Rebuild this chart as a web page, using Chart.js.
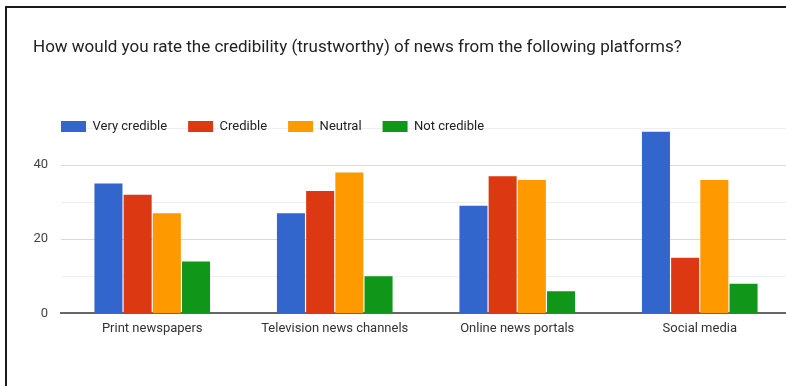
<!DOCTYPE html>
<html>
<head>
<meta charset="utf-8">
<script src="https://cdn.jsdelivr.net/npm/chart.js@4.4.1/dist/chart.umd.min.js"></script>
<style>
  html, body { margin: 0; padding: 0; background: #fff; overflow: hidden; }
  #wrap { position: relative; width: 786px; height: 386px; overflow: hidden; }
  #frame {
    position: absolute; left: 5px; top: 6px; width: 900px; height: 500px;
    border-left: 2px solid #1a1a1a; border-top: 2px solid #1a1a1a;
    pointer-events: none;
  }
  #title {
    position: absolute; left: 33px; top: 36px;
    font: 17px Roboto, sans-serif; line-height: 20px; color: #222;
    white-space: nowrap;
  }
  canvas { position: absolute; left: 0; top: 0; }
</style>
</head>
<body>
<div id="wrap">
  <canvas id="credChart" width="800" height="386"></canvas>
  <div id="title">How would you rate the credibility (trustworthy) of news from the following platforms?</div>
  <div id="frame"></div>
</div>
<script>
// values
const platforms = ['Print newspapers', 'Television news channels', 'Online news portals', 'Social media'];
const veryCredible = [35, 27, 29, 49];
const credible = [32, 33, 37, 15];
const neutral = [27, 38, 36, 36];
const notCredible = [14, 10, 6, 8];
const yTicks = [0, 20, 40];

Chart.defaults.font.family = 'Roboto';
Chart.defaults.font.size = 13;

// google-style legend sits on top of the chart area, so move it after layout
const legendShift = {
  id: 'legendShift',
  afterLayout(chart) {
    const lg = chart.legend;
    lg.top = 99;
    lg.bottom = 99 + lg.height;
    lg.left = 40;
  }
};

const ctx = document.getElementById('credChart').getContext('2d');
const credChart = new Chart(ctx, {
  type: 'bar',
  data: {
    labels: platforms,
    datasets: [
      { label: 'Very credible', data: veryCredible, backgroundColor: '#3366cc' },
      { label: 'Credible', data: credible, backgroundColor: '#dc3912' },
      { label: 'Neutral', data: neutral, backgroundColor: '#ff9900' },
      { label: 'Not credible', data: notCredible, backgroundColor: '#109618' }
    ]
  },
  options: {
    responsive: false,
    animation: false,
    layout: { padding: { left: 20, right: 9, top: 84, bottom: 41 } },
    datasets: {
      bar: { borderWidth: 0, barPercentage: 0.96, categoryPercentage: 0.64 }
    },
    plugins: {
      legend: {
        position: 'top',
        align: 'start',
        labels: { boxWidth: 25, boxHeight: 11, padding: 21, color: '#222', font: { size: 13 } }
      },
      tooltip: { enabled: false }
    },
    scales: {
      x: {
        grid: { display: false, drawTicks: false },
        border: { color: '#666', width: 2 },
        ticks: { color: '#333', padding: 8, maxRotation: 0 }
      },
      y: {
        min: 0,
        max: 50,
        afterFit(scale) { scale.width = 41; },
        border: { display: false },
        grid: {
          drawTicks: false,
          color: (c) => c.tick.value === 0 ? 'rgba(0,0,0,0)' : (c.tick.value % 20 === 0 ? '#d9d9d9' : '#efefef')
        },
        ticks: {
          stepSize: 10,
          padding: 13,
          color: '#444',
          callback: (v) => yTicks.includes(v) ? v : ''
        }
      }
    }
  },
  plugins: [legendShift]
});
</script>
</body>
</html>
